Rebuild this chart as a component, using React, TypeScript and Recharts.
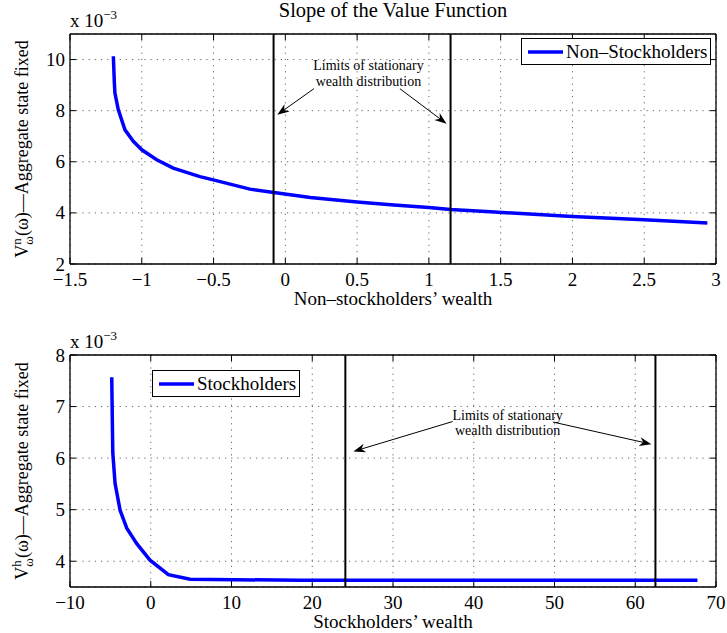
import React from 'react';
import {
  LineChart,
  Line,
  XAxis,
  YAxis,
  CartesianGrid,
  ReferenceLine,
  ReferenceDot,
  Legend,
} from 'recharts';

// Slope of the value function (units of 1e-3)
const nonStockWealth = [
  -1.198, -1.191, -1.187, -1.164, -1.117, -1.059, -1.0, -0.896, -0.781, -0.595, -0.502,
  -0.247, -0.08, 0.174, 0.5, 0.756, 1.0, 1.15, 1.43, 2.0, 2.5, 2.94,
];
const nonStockSlope = [
  10.13, 9.09, 8.69, 8.04, 7.25, 6.8, 6.47, 6.08, 5.75, 5.42, 5.29,
  4.93, 4.8, 4.6, 4.43, 4.31, 4.21, 4.13, 4.04, 3.86, 3.73, 3.6,
];

const stockWealth = [-4.83, -4.76, -4.7, -4.42, -3.8, -2.97, -1.73, -0.09, 2.18, 4.87, 18.5, 67.7];
const stockSlope = [7.57, 6.74, 6.1, 5.51, 4.99, 4.64, 4.34, 4.02, 3.74, 3.65, 3.63, 3.63];

const nonStockXTicks = [-1.5, -1, -0.5, 0, 0.5, 1, 1.5, 2, 2.5, 3];
const nonStockYTicks = [2, 4, 6, 8, 10];
const stockXTicks = [-10, 0, 10, 20, 30, 40, 50, 60, 70];
const stockYTicks = [4, 5, 6, 7, 8];

// limits of the stationary wealth distribution
const nonStockLimits = [-0.082, 1.151];
const stockLimits = [24.1, 62.5];

const FONT = '"Liberation Serif", "Times New Roman", Times, serif';
const BLUE = '#0000ff';
const TICK_FONT = 19;

const fmt = (v: number) => (v < 0 ? '\u2212' + String(-v) : String(v));

const BottomTick = (p: any) => (
  <g>
    <line x1={p.x} y1={p.y} x2={p.x} y2={p.y - 6} stroke="#000" strokeWidth={1} />
    <text x={p.x} y={p.y + 22} textAnchor="middle" fontFamily={FONT} fontSize={TICK_FONT} fill="#000">
      {fmt(p.payload.value)}
    </text>
  </g>
);

const TopTick = (p: any) => (
  <line x1={p.x} y1={p.y} x2={p.x} y2={p.y + 6} stroke="#000" strokeWidth={1} />
);

const LeftTick = (p: any) => (
  <g>
    <line x1={p.x} y1={p.y} x2={p.x + 6} y2={p.y} stroke="#000" strokeWidth={1} />
    <text x={p.x - 5} y={p.y + 6.5} textAnchor="end" fontFamily={FONT} fontSize={TICK_FONT} fill="#000">
      {fmt(p.payload.value)}
    </text>
  </g>
);

const RightTick = (p: any) => (
  <line x1={p.x} y1={p.y} x2={p.x - 6} y2={p.y} stroke="#000" strokeWidth={1} />
);

const Arrow = (p: any) => {
  const { x1, y1, x2, y2 } = p;
  const dx = x2 - x1;
  const dy = y2 - y1;
  const len = Math.hypot(dx, dy) || 1;
  const ux = dx / len;
  const uy = dy / len;
  const L = 12;
  const W = 4.5;
  const bx = x2 - ux * L;
  const by = y2 - uy * L;
  const nx = -uy;
  const ny = ux;
  const mx = x2 - ux * L * 0.7;
  const my = y2 - uy * L * 0.7;
  const pts = `${x2},${y2} ${bx + nx * W},${by + ny * W} ${mx},${my} ${bx - nx * W},${by - ny * W}`;
  return (
    <g>
      <line x1={x1} y1={y1} x2={mx} y2={my} stroke="#000" strokeWidth={1} />
      <polygon points={pts} fill="#000" />
    </g>
  );
};

const Note = (p: any) => (
  <text x={p.cx} y={p.cy} textAnchor="middle" fontFamily={FONT} fontSize={14} fill="#000">
    <tspan x={p.cx}>Limits of stationary</tspan>
    <tspan x={p.cx} dy={15.5}>wealth distribution</tspan>
  </text>
);

const LegendBox = ({ name, color }: { name: string; color: string }) => (
  <div
    style={{
      border: '1px solid #000',
      background: '#fff',
      display: 'flex',
      alignItems: 'center',
      height: 25,
      padding: '0 3px 0 6px',
      fontFamily: FONT,
      fontSize: 19,
      lineHeight: '25px',
      whiteSpace: 'nowrap',
      color: '#000',
    }}
  >
    <svg width={35} height={6} style={{ marginRight: 3 }}>
      <line x1={0} y1={3} x2={35} y2={3} stroke={color} strokeWidth={3.5} />
    </svg>
    <span>{name}</span>
  </div>
);

interface PanelProps {
  wealth: number[];
  slope: number[];
  xTicks: number[];
  yTicks: number[];
  xDomain: [number, number];
  yDomain: [number, number];
  limits: number[];
  height: number;
  marginTop: number;
  xAxisHeight: number;
  series: string;
  sup: string;
  xLabel: string;
  title?: string;
  legendPos: { left: number; top: number };
  notePos: { x: number; y: number };
  arrows: { x: number; y: number }[][];
}

const Panel: React.FC<PanelProps> = (props) => {
  const data = props.wealth.map((w, i) => ({ x: w, y: props.slope[i] }));
  const plotTop = props.marginTop + 1;
  const plotH = props.height - props.xAxisHeight - plotTop;

  const yLabel = (lp: any) => {
    const vb = lp && lp.viewBox && lp.viewBox.height ? lp.viewBox : { x: 0, y: plotTop, width: 70, height: plotH };
    const cy = vb.y + vb.height / 2;
    return (
      <g>
        <text x={vb.x + vb.width} y={vb.y - 7} fontFamily={FONT} fontSize={19} fill="#000">
          x 10<tspan dy={-8} fontSize={13}>{'\u22123'}</tspan>
        </text>
        <text
          transform={`translate(28, ${cy}) rotate(-90)`}
          textAnchor="middle"
          fontFamily={FONT}
          fontSize={18}
          fill="#000"
        >
          V<tspan dy={-7} fontSize={13}>{props.sup}</tspan>
          <tspan dx={-6.5} dy={12} fontSize={13}>ω</tspan>
          <tspan dy={-5}>(ω)—Aggregate state fixed</tspan>
        </text>
      </g>
    );
  };

  const xLabel = (lp: any) => {
    const vb = lp && lp.viewBox && lp.viewBox.width ? lp.viewBox : { x: 70, y: props.height - props.xAxisHeight, width: 646 };
    return (
      <text x={vb.x + vb.width / 2} y={vb.y + 41} textAnchor="middle" fontFamily={FONT} fontSize={19} fill="#000">
        {props.xLabel}
      </text>
    );
  };

  const titleLabel = (lp: any) => {
    if (!props.title) return null;
    const vb = lp && lp.viewBox && lp.viewBox.width ? lp.viewBox : { x: 70, width: 646 };
    return (
      <text x={vb.x + vb.width / 2} y={17} textAnchor="middle" fontFamily={FONT} fontSize={20.5} fill="#000">
        {props.title}
      </text>
    );
  };

  return (
    <LineChart
      width={727}
      height={props.height}
      data={data}
      margin={{ top: props.marginTop, right: 10, bottom: 0, left: 0 }}
    >
      <CartesianGrid stroke="#666" strokeDasharray="1.2 5" strokeWidth={1} />
      <XAxis
        dataKey="x"
        type="number"
        domain={props.xDomain}
        ticks={props.xTicks}
        interval={0}
        allowDataOverflow
        height={props.xAxisHeight}
        tickLine={false}
        tickSize={0}
        tickMargin={0}
        tick={BottomTick}
        axisLine={{ stroke: '#000', strokeWidth: 1.3 }}
        label={{ content: xLabel }}
      />
      <XAxis
        xAxisId="top"
        orientation="top"
        dataKey="x"
        type="number"
        domain={props.xDomain}
        ticks={props.xTicks}
        interval={0}
        allowDataOverflow
        height={1}
        tickLine={false}
        tickSize={0}
        tickMargin={0}
        tick={TopTick}
        axisLine={{ stroke: '#000', strokeWidth: 1.3 }}
        label={{ content: titleLabel }}
      />
      <YAxis
        type="number"
        domain={props.yDomain}
        ticks={props.yTicks}
        interval={0}
        allowDataOverflow
        width={70}
        tickLine={false}
        tickSize={0}
        tickMargin={0}
        tick={LeftTick}
        axisLine={{ stroke: '#000', strokeWidth: 1.3 }}
        label={{ content: yLabel }}
      />
      <YAxis
        yAxisId="right"
        orientation="right"
        type="number"
        domain={props.yDomain}
        ticks={props.yTicks}
        interval={0}
        allowDataOverflow
        width={1}
        tickLine={false}
        tickSize={0}
        tickMargin={0}
        tick={RightTick}
        axisLine={{ stroke: '#000', strokeWidth: 1.3 }}
      />
      <Line
        type="linear"
        dataKey="y"
        name={props.series}
        stroke={BLUE}
        strokeWidth={3.5}
        dot={false}
        activeDot={false}
        isAnimationActive={false}
      />
      {props.limits.map((v) => (
        <ReferenceLine key={v} x={v} stroke="#000" strokeWidth={2} />
      ))}
      {props.arrows.map((seg, i) => (
        <ReferenceLine key={'a' + i} segment={seg} shape={Arrow} />
      ))}
      <ReferenceDot x={props.notePos.x} y={props.notePos.y} r={0} shape={Note} />
      <Legend
        layout="vertical"
        align="center"
        verticalAlign="middle"
        wrapperStyle={{ position: 'absolute', left: props.legendPos.left, top: props.legendPos.top, width: 'auto', height: 'auto', margin: 0 }}
        content={(lp: any) => {
          const item = lp && lp.payload && lp.payload[0];
          return <LegendBox name={(item && item.value) || props.series} color={(item && item.color) || BLUE} />;
        }}
      />
    </LineChart>
  );
};

export default function App() {
  return (
    <div style={{ position: 'absolute', left: 0, top: 0, width: 727, height: 633, background: '#fff' }}>
      <div style={{ position: 'absolute', left: 0, top: 0 }}>
        <Panel
          wealth={nonStockWealth}
          slope={nonStockSlope}
          xTicks={nonStockXTicks}
          yTicks={nonStockYTicks}
          xDomain={[-1.5, 3]}
          yDomain={[2, 11]}
          limits={nonStockLimits}
          height={320}
          marginTop={33}
          xAxisHeight={56}
          series="Non–Stockholders"
          sup="n"
          xLabel="Non–stockholders’ wealth"
          title="Slope of the Value Function"
          legendPos={{ left: 521, top: 38 }}
          notePos={{ x: 0.579, y: 9.59 }}
          arrows={[
            [{ x: 0.199, y: 8.86 }, { x: -0.056, y: 7.84 }],
            [{ x: 0.798, y: 8.86 }, { x: 1.123, y: 7.49 }],
          ]}
        />
      </div>
      <div style={{ position: 'absolute', left: 0, top: 320 }}>
        <Panel
          wealth={stockWealth}
          slope={stockSlope}
          xTicks={stockXTicks}
          yTicks={stockYTicks}
          xDomain={[-10, 70]}
          yDomain={[3.5, 8]}
          limits={stockLimits}
          height={313}
          marginTop={34}
          xAxisHeight={46}
          series="Stockholders"
          sup="h"
          xLabel="Stockholders’ wealth"
          legendPos={{ left: 152, top: 50 }}
          notePos={{ x: 44.2, y: 6.74 }}
          arrows={[
            [{ x: 37.4, y: 6.71 }, { x: 25.1, y: 6.13 }],
            [{ x: 49.8, y: 6.7 }, { x: 62.0, y: 6.27 }],
          ]}
        />
      </div>
    </div>
  );
}
